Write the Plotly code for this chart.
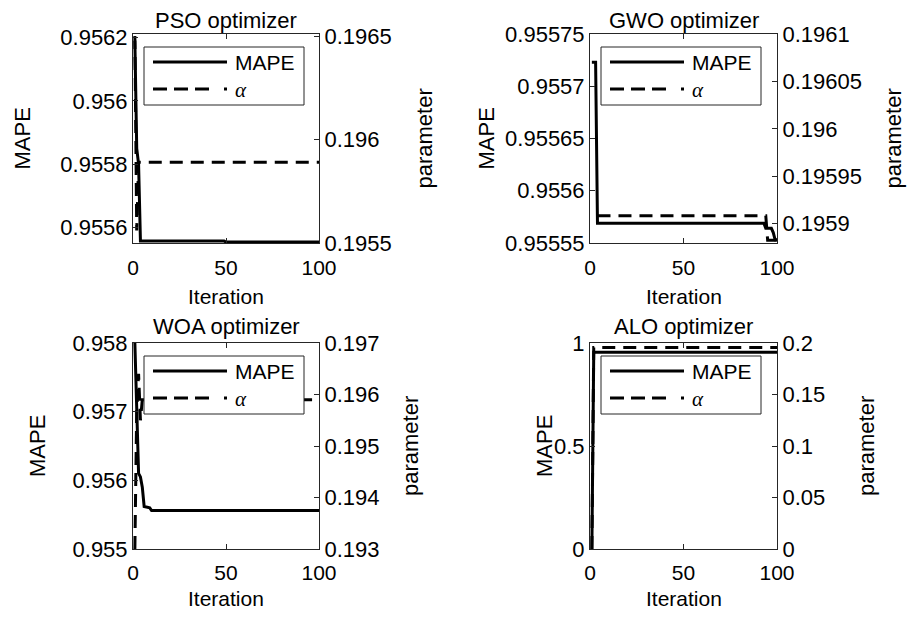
import plotly.graph_objects as go

# ---------------- data ----------------
pso_mape_iter = [1, 2, 3, 4, 49, 50, 100]
pso_mape = [0.95619, 0.95585, 0.95580, 0.955557, 0.955557, 0.955554, 0.955554]
pso_alpha_iter = [1, 2, 3, 100]
pso_alpha = [0.19650, 0.19556, 0.19589, 0.19589]

gwo_mape_iter = [1, 3, 4, 93, 94, 97, 98, 99, 100]
gwo_mape = [0.955723, 0.955723, 0.955569, 0.955569, 0.955564, 0.955564, 0.955560, 0.955553, 0.955553]
gwo_alpha_iter = [4, 94, 95, 100]
gwo_alpha = [0.195908, 0.195908, 0.195882, 0.195882]

woa_mape_iter = [1, 2, 3, 4, 5, 6, 9, 10, 100]
woa_mape = [0.95800, 0.95700, 0.95610, 0.95605, 0.95590, 0.95562, 0.95560, 0.95556, 0.95556]
woa_alpha_iter = [1, 2, 3, 4, 5, 100]
woa_alpha = [0.1930, 0.1957, 0.1964, 0.1955, 0.1959, 0.1959]

alo_mape_iter = [1, 2, 100]
alo_mape = [0.0, 0.9556, 0.9556]
alo_alpha_iter = [1, 2, 100]
alo_alpha = [0.0, 0.1956, 0.1956]

titles = ["PSO optimizer", "GWO optimizer", "WOA optimizer", "ALO optimizer"]

x_ticks = [0, 50, 100]
x_ticktext = ["0", "50", "100"]

pso_left_ticks = [0.9556, 0.9558, 0.9560, 0.9562]
pso_left_text = ["0.9556", "0.9558", "0.956", "0.9562"]
pso_right_ticks = [0.1955, 0.1960, 0.1965]
pso_right_text = ["0.1955", "0.196", "0.1965"]

gwo_left_ticks = [0.95555, 0.95560, 0.95565, 0.95570, 0.95575]
gwo_left_text = ["0.95555", "0.9556", "0.95565", "0.9557", "0.95575"]
gwo_right_ticks = [0.19590, 0.19595, 0.19600, 0.19605, 0.19610]
gwo_right_text = ["0.1959", "0.19595", "0.196", "0.19605", "0.1961"]

woa_left_ticks = [0.955, 0.956, 0.957, 0.958]
woa_left_text = ["0.955", "0.956", "0.957", "0.958"]
woa_right_ticks = [0.193, 0.194, 0.195, 0.196, 0.197]
woa_right_text = ["0.193", "0.194", "0.195", "0.196", "0.197"]

alo_left_ticks = [0, 0.5, 1]
alo_left_text = ["0", "0.5", "1"]
alo_right_ticks = [0, 0.05, 0.1, 0.15, 0.2]
alo_right_text = ["0", "0.05", "0.1", "0.15", "0.2"]

# ---------------- layout geometry (page pixels) ----------------
OFF = 8                              # default body margin of the html page
W, H = 915 - 2 * OFF, 618 - 2 * OFF  # figure fits the window without scrollbars
FONT = "Liberation Sans, Arial, sans-serif"
AX = "#262626"


def px(x):
    return (x - OFF) / W


def py(y):
    return 1 - (y - OFF) / H


cols = [(133, 319), (590, 777)]
rows = [(34, 243), (343, 549)]
title_y = [21, 326]
xlabel_y = [296, 598]
xtick_standoff = [6, 5]

panels = [
    dict(title=titles[0], col=0, row=0,
         mx=pso_mape_iter, my=pso_mape, ax=pso_alpha_iter, ay=pso_alpha,
         lr=[0.955551, 0.956211], lt=pso_left_ticks, ltt=pso_left_text,
         rr=[0.1955, 0.19651], rt=pso_right_ticks, rtt=pso_right_text,
         mape_x=22, par_x=424),
    dict(title=titles[1], col=1, row=0,
         mx=gwo_mape_iter, my=gwo_mape, ax=gwo_alpha_iter, ay=gwo_alpha,
         lr=[0.95555, 0.95575], lt=gwo_left_ticks, ltt=gwo_left_text,
         rr=[0.195879, 0.1961005], rt=gwo_right_ticks, rtt=gwo_right_text,
         mape_x=486, par_x=893),
    dict(title=titles[2], col=0, row=1,
         mx=woa_mape_iter, my=woa_mape, ax=woa_alpha_iter, ay=woa_alpha,
         lr=[0.955, 0.958], lt=woa_left_ticks, ltt=woa_left_text,
         rr=[0.193, 0.197], rt=woa_right_ticks, rtt=woa_right_text,
         mape_x=37, par_x=410),
    dict(title=titles[3], col=1, row=1,
         mx=alo_mape_iter, my=alo_mape, ax=alo_alpha_iter, ay=alo_alpha,
         lr=[0, 1], lt=alo_left_ticks, ltt=alo_left_text,
         rr=[0, 0.2], rt=alo_right_ticks, rtt=alo_right_text,
         mape_x=544, par_x=866),
]

fig = go.Figure()
shapes = []
annotations = []
layout_axes = {}

YTICKF = dict(family=FONT, size=22, color="black")
XTICKF = dict(family=FONT, size=21, color="black")
DASH = "13px,8px"

for i, p in enumerate(panels):
    n = i + 1
    xname = "x" if n == 1 else f"x{n}"
    yl_n = 2 * i + 1
    yr_n = 2 * i + 2
    yl = "y" if yl_n == 1 else f"y{yl_n}"
    yr = f"y{yr_n}"
    x0, x1 = cols[p["col"]]
    y0, y1 = rows[p["row"]]
    r = p["row"]

    fig.add_trace(go.Scatter(x=p["mx"], y=p["my"], xaxis=xname, yaxis=yl,
                             mode="lines", name="MAPE", showlegend=False,
                             line=dict(color="black", width=3)))
    fig.add_trace(go.Scatter(x=p["ax"], y=p["ay"], xaxis=xname, yaxis=yr,
                             mode="lines", name="α", showlegend=False,
                             line=dict(color="black", width=3, dash=DASH)))

    xkey = "xaxis" if n == 1 else f"xaxis{n}"
    ylkey = "yaxis" if yl_n == 1 else f"yaxis{yl_n}"
    yrkey = f"yaxis{yr_n}"
    layout_axes[xkey] = dict(
        domain=[px(x0), px(x1)], anchor=yl, range=[0, 100],
        tickmode="array", tickvals=x_ticks, ticktext=x_ticktext,
        ticks="inside", ticklen=5, tickcolor=AX, mirror="ticks",
        showline=True, linecolor=AX, linewidth=1,
        showgrid=False, zeroline=False, tickfont=XTICKF,
        ticklabelstandoff=xtick_standoff[r], automargin=False)
    layout_axes[ylkey] = dict(
        domain=[py(y1), py(y0)], anchor=xname, range=p["lr"],
        tickmode="array", tickvals=p["lt"], ticktext=p["ltt"],
        ticks="inside", ticklen=5, tickcolor=AX,
        showline=True, linecolor=AX, linewidth=1,
        showgrid=False, zeroline=False, tickfont=YTICKF,
        ticklabelstandoff=0, automargin=False)
    layout_axes[yrkey] = dict(
        overlaying=yl, side="right", anchor=xname, range=p["rr"],
        tickmode="array", tickvals=p["rt"], ticktext=p["rtt"],
        ticks="inside", ticklen=5, tickcolor=AX,
        showline=True, linecolor=AX, linewidth=1,
        showgrid=False, zeroline=False, tickfont=YTICKF,
        ticklabelstandoff=0, automargin=False)

    cx = (x0 + x1) / 2
    # title
    annotations.append(dict(text=p["title"], x=px(cx), y=py(title_y[r]), xref="paper", yref="paper",
                            xanchor="center", yanchor="middle", showarrow=False, borderpad=0,
                            font=dict(family=FONT, size=22, color="black")))
    # x label
    annotations.append(dict(text="Iteration", x=px(cx), y=py(xlabel_y[r]), xref="paper", yref="paper",
                            xanchor="center", yanchor="middle", showarrow=False, borderpad=0,
                            font=dict(family=FONT, size=21, color="black")))
    cy = (y0 + y1) / 2
    annotations.append(dict(text="MAPE", x=px(p["mape_x"]), y=py(cy), xref="paper", yref="paper",
                            xanchor="center", yanchor="middle", showarrow=False, textangle=-90,
                            borderpad=0, font=dict(family=FONT, size=22, color="black")))
    annotations.append(dict(text="parameter", x=px(p["par_x"]), y=py(cy), xref="paper", yref="paper",
                            xanchor="center", yanchor="middle", showarrow=False, textangle=-90,
                            borderpad=0, font=dict(family=FONT, size=22, color="black")))

    # legend box
    lx0 = x0 + 11
    lx1 = x0 + 171
    ly0 = y0 + 13
    ly1 = y0 + 71
    shapes.append(dict(type="rect", xref="paper", yref="paper", layer="above",
                       x0=px(lx0), x1=px(lx1), y0=py(ly0), y1=py(ly1),
                       fillcolor="white", line=dict(color=AX, width=1)))
    shapes.append(dict(type="line", xref="paper", yref="paper", layer="above",
                       x0=px(lx0 + 9), x1=px(lx0 + 83), y0=py(ly0 + 15), y1=py(ly0 + 15),
                       line=dict(color="black", width=3)))
    shapes.append(dict(type="line", xref="paper", yref="paper", layer="above",
                       x0=px(lx0 + 9), x1=px(lx0 + 83), y0=py(ly0 + 42), y1=py(ly0 + 42),
                       line=dict(color="black", width=3, dash="14px,7px,14px,7px,14px,15px,3px")))
    annotations.append(dict(text="MAPE", x=px(lx0 + 89), y=py(ly0 + 15), xref="paper", yref="paper",
                            xanchor="left", yanchor="middle", showarrow=False,
                            font=dict(family=FONT, size=21, color="black")))
    annotations.append(dict(text="<i>α</i>", x=px(lx0 + 89), y=py(ly0 + 43), xref="paper", yref="paper",
                            xanchor="left", yanchor="middle", showarrow=False,
                            font=dict(family="Liberation Serif, DejaVu Serif, serif", size=21, color="black")))

fig.update_layout(
    template="none",
    width=W, height=H,
    margin=dict(l=0, r=0, t=0, b=0),
    paper_bgcolor="white", plot_bgcolor="white",
    font=dict(family=FONT, color="black"),
    showlegend=False,
    shapes=shapes, annotations=annotations,
    **layout_axes,
)

fig.write_html("out.html")
